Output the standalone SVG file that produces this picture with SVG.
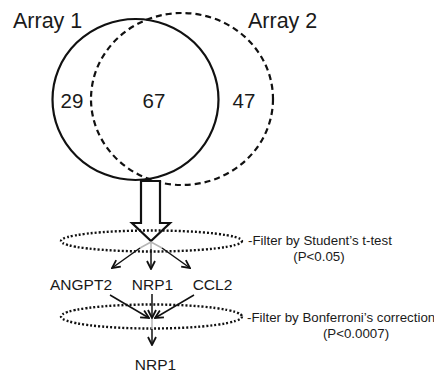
<svg xmlns="http://www.w3.org/2000/svg" width="434" height="373" viewBox="0 0 434 373">
  <style>
    text { font-family: "Liberation Sans", Arial, sans-serif; fill: #1a1a1a; }
    .big { font-size: 21.5px; }
    .num { font-size: 20.5px; }
    .gene { font-size: 15.5px; }
    .note { font-size: 13.3px; }
    .set { fill: none; stroke: #111; stroke-width: 2.2; }
    .filter { fill: none; stroke: #111; stroke-width: 2.4; stroke-dasharray: 2 2; }
    .edge { stroke: #111; stroke-width: 1.5; fill: none; }
    .stub { stroke: #b5b5b5; stroke-width: 1.5; fill: none; }
  </style>
  <defs>
    <marker id="head" viewBox="0 0 10 10" refX="9" refY="5" markerWidth="10" markerHeight="10" markerUnits="userSpaceOnUse" orient="auto">
      <path d="M1,1 L9,5 L1,9" fill="none" stroke="#111" stroke-width="1.8"/>
    </marker>
  </defs>

  <!-- Venn diagram of the two arrays -->
  <g id="array1">
    <ellipse class="set" cx="135.5" cy="99.5" rx="83" ry="80.5"/>
    <text class="big" x="13" y="28">Array 1</text>
  </g>
  <g id="array2">
    <ellipse class="set" cx="182" cy="99" rx="91" ry="86" stroke-dasharray="6 4"/>
    <text class="big" x="248" y="28">Array 2</text>
  </g>
  <g id="counts">
    <text class="num" x="72" y="108" text-anchor="middle">29</text>
    <text class="num" x="154" y="108" text-anchor="middle">67</text>
    <text class="num" x="244" y="108" text-anchor="middle">47</text>
  </g>

  <!-- hollow arrow into the first filter -->
  <g id="bigArrow">
    <path d="M141,181 L160,181 L160,223 L170,223 L151,241 L132,223 L141,223 Z" fill="#fff" stroke="#111" stroke-width="2.2" stroke-linejoin="miter"/>
  </g>

  <!-- filter stages -->
  <g id="filter1">
    <ellipse class="filter" cx="151.5" cy="241" rx="90.5" ry="10.5"/>
    <text class="note" x="248" y="245">-Filter by Student’s t-test</text>
    <text class="note" x="319" y="261" text-anchor="middle">(P&lt;0.05)</text>
  </g>
  <g id="filter2">
    <ellipse class="filter" cx="151.5" cy="316.5" rx="90.5" ry="12"/>
    <text class="note" x="247" y="322">-Filter by Bonferroni’s correction</text>
    <text class="note" x="356" y="338" text-anchor="middle">(P&lt;0.0007)</text>
  </g>

  <!-- gene nodes -->
  <g id="angpt2"><text class="gene" x="81" y="290" text-anchor="middle">ANGPT2</text></g>
  <g id="nrp1"><text class="gene" x="152.5" y="290" text-anchor="middle">NRP1</text></g>
  <g id="ccl2"><text class="gene" x="212.5" y="290" text-anchor="middle">CCL2</text></g>
  <g id="nrp1Final"><text class="gene" x="155.5" y="370" text-anchor="middle">NRP1</text></g>

  <!-- connectors -->
  <g id="connectors">
    <path class="stub" d="M151,242 L151,249 M151,242 L140,248 M151,242 L162,248"/>
    <path class="edge" d="M140,248 L112,268" marker-end="url(#head)"/>
    <path class="edge" d="M151,249 L151,269" marker-end="url(#head)"/>
    <path class="edge" d="M162,248 L190,268" marker-end="url(#head)"/>
    <path class="edge" d="M110,295 L149,318" marker-end="url(#head)"/>
    <path class="edge" d="M152,294 L152,318" marker-end="url(#head)"/>
    <path class="edge" d="M194,295 L155,318" marker-end="url(#head)"/>
    <path class="stub" d="M152,319 L152,329"/>
    <path class="edge" d="M152,329 L152,345" marker-end="url(#head)"/>
  </g>
</svg>
